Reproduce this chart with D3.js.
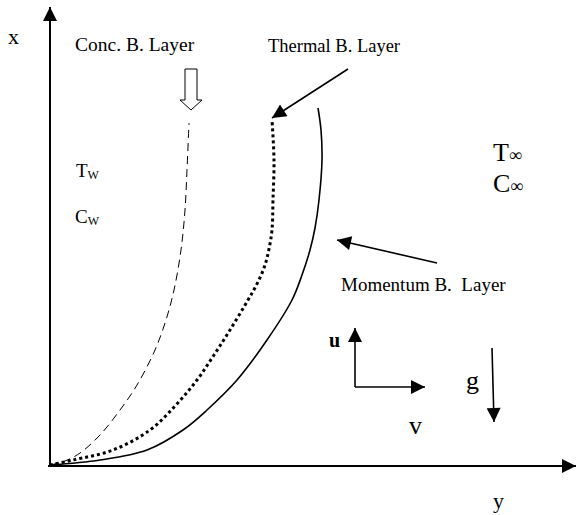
<!DOCTYPE html>
<html><head><meta charset="utf-8">
<script src="https://cdn.jsdelivr.net/npm/d3@7"></script>
<style>html,body{margin:0;padding:0;background:#fff;}svg{display:block;}text{white-space:pre;}</style>
</head><body>
<script>
// Diagram coordinates: horizontal distance from wall (y direction), vertical distance along wall (x direction)
const concLayer = [[0,0],[15,4],[30,12],[50,30],[70,55],[87,80],[105,115],[116,145],[124,175],[131,215],[135,255],[137,295],[139,342]];
const thermalLayer = [[0,0],[23,5],[63,15],[100,35],[126,60],[147,85],[164,110],[180,135],[198,165],[208,183],[215,200],[219,216],[222,235],[223,265],[224,305],[222,345]];
const momentumLayer = [[0,0],[50,5],[97,15],[133,35],[157,55],[187,85],[217,125],[242,165],[252,190],[260,215],[265,237],[269,265],[272,305],[271,335],[268,357]];
const annotationArrows = [
  {from:[298,396], to:[222,347]},   // Thermal B. Layer pointer
  {from:[387,202], to:[287,225]},   // Momentum B. Layer pointer
  {from:[305,78],  to:[305,137]},   // u
  {from:[305,78],  to:[375,78]},    // v
  {from:[442,117], to:[444,43]}     // g
];
const labels = [
  {t:"Conc. B. Layer", x:25, y:414, size:19.5},
  {t:"Thermal B. Layer", x:218, y:413, size:18.5},
  {t:"Momentum B.  Layer", x:291, y:174, size:19},
  {t:"x", x:-42, y:421, size:22},
  {t:"y", x:443, y:-43, size:22},
  {t:"g", x:416, y:76, size:26},
  {t:"v", x:359, y:31, size:26}
];

const W = 576, H = 515;
const svg = d3.select("body").append("svg").attr("width", W).attr("height", H);
const sx = d3.scaleLinear().domain([0, 526]).range([50, 576]);
const sy = d3.scaleLinear().domain([0, 458]).range([465, 7]);
const font = "'Liberation Serif','Times New Roman',serif";

const defs = svg.append("defs");
defs.append("marker").attr("id","ah").attr("viewBox","0 0 10 10").attr("refX",10).attr("refY",5)
  .attr("markerUnits","userSpaceOnUse").attr("markerWidth",15).attr("markerHeight",14).attr("orient","auto")
  .append("path").attr("d","M0,0 L10,5 L0,10 Z").attr("fill","#000");

// Axes
svg.append("line").attr("x1",sx(0)).attr("y1",sy(-1)).attr("x2",sx(0)).attr("y2",sy(458))
  .attr("stroke","#000").attr("stroke-width",2).attr("marker-end","url(#ah)");
svg.append("line").attr("x1",sx(-2)).attr("y1",sy(-1)).attr("x2",sx(526)).attr("y2",sy(-1))
  .attr("stroke","#000").attr("stroke-width",2).attr("marker-end","url(#ah)");

const line = d3.line().x(d=>sx(d[0])).y(d=>sy(d[1])).curve(d3.curveCatmullRom.alpha(0.5));
svg.append("path").attr("d",line(concLayer)).attr("fill","none").attr("stroke","#000")
  .attr("stroke-width",1).attr("stroke-dasharray","8,5");
svg.append("path").attr("d",line(thermalLayer)).attr("fill","none").attr("stroke","#000")
  .attr("stroke-width",3).attr("stroke-dasharray","3,3");
svg.append("path").attr("d",line(momentumLayer)).attr("fill","none").attr("stroke","#000")
  .attr("stroke-width",1.6);

annotationArrows.forEach(a=>{
  svg.append("line").attr("x1",sx(a.from[0])).attr("y1",sy(a.from[1]))
    .attr("x2",sx(a.to[0])).attr("y2",sy(a.to[1]))
    .attr("stroke","#000").attr("stroke-width",1.6).attr("marker-end","url(#ah)");
});

// Hollow block arrow (Conc. B. Layer)
const hx = sx(141), hTop = sy(396), hMid = sy(365), hTip = sy(355);
svg.append("path").attr("d",
  `M${hx-6},${hTop} L${hx+6},${hTop} L${hx+6},${hMid} L${hx+11},${hMid} L${hx},${hTip} L${hx-11},${hMid} L${hx-6},${hMid} Z`)
  .attr("fill","#fff").attr("stroke","#000").attr("stroke-width",1);

labels.forEach(l=>{
  svg.append("text").attr("x",sx(l.x)).attr("y",sy(l.y)).attr("font-family",font)
    .attr("font-size",l.size).text(l.t);
});
svg.append("text").attr("x",sx(279)).attr("y",sy(118)).attr("font-family",font)
  .attr("font-size",20).attr("font-weight","bold").text("u");

function sub(main, s, x, y, size, subSize, dy){
  const t = svg.append("text").attr("x",sx(x)).attr("y",sy(y)).attr("font-family",font).attr("font-size",size);
  t.append("tspan").text(main);
  t.append("tspan").attr("font-size",subSize).attr("dy",dy).text(s);
}
sub("T","W",26,288,19,12,2);
sub("C","W",25,242,19,12,2);
sub("T","\u221E",443,304,26,18,0);
sub("C","\u221E",443,273,26,18,0);
</script>
</body></html>
